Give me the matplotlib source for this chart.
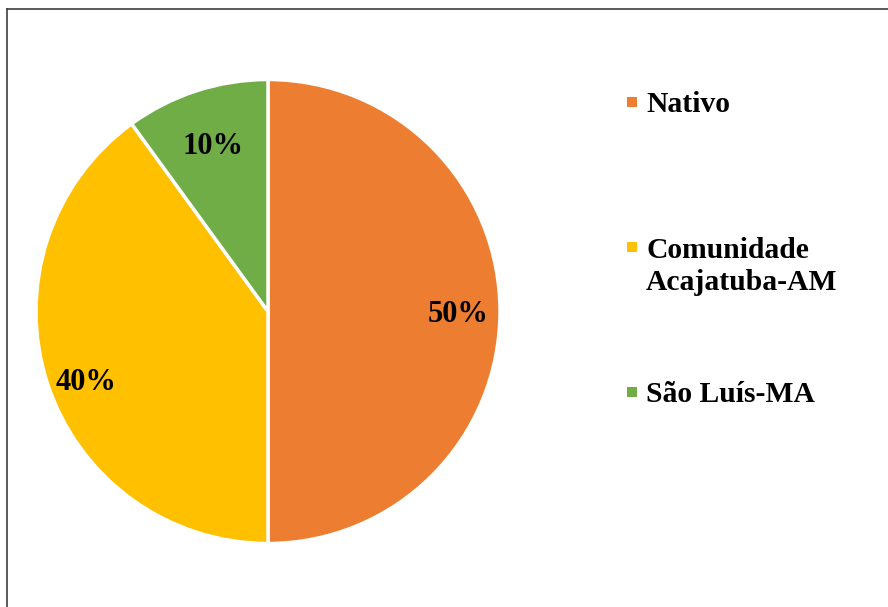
import numpy as np
import matplotlib.pyplot as plt
from matplotlib.patches import Rectangle
from matplotlib.lines import Line2D

# data
categories = ["Nativo", "Comunidade\nAcajatuba-AM", "São Luís-MA"]
values = [50, 40, 10]
colors = ["#ED7D31", "#FFC000", "#70AD47"]

plt.rcParams['font.family'] = ['Liberation Serif', 'DejaVu Serif']

W, H = 888, 607
fig = plt.figure(figsize=(W / 100, H / 100), dpi=100)

# pie axes: center (268, 311.5) px, radius 232 px
cx, cy, r = 268, 311.5, 232
ax = fig.add_axes([(cx - r) / W, (H - cy - r) / H, 2 * r / W, 2 * r / H])
wedges, texts, autotexts = ax.pie(values, colors=colors, startangle=90, counterclock=False,
                                  autopct='%1.0f%%', pctdistance=0.8,
                                  wedgeprops=dict(edgecolor='white', linewidth=2.5))
# label distance / angle nudge per slice (as placed in the original)
label_dist = [0.82, 0.835, 0.765]
label_rot = [0, 2.5, 0]
for w, t, d, rot in zip(wedges, autotexts, label_dist, label_rot):
    ang = np.deg2rad((w.theta1 + w.theta2) / 2 + rot)
    t.set_position((d * np.cos(ang), d * np.sin(ang)))
    t.set_verticalalignment('center_baseline')
    t.set_fontsize(22)
    t.set_fontweight('bold')
    t.set_color('black')
ax.set_xlim(-1, 1)
ax.set_ylim(-1, 1)
ax.set_aspect('equal')
ax.axis('off')

# legend, drawn by hand
legend_y = [102, 247, 392]
for cat, col, ly in zip(categories, colors, legend_y):
    fig.patches.append(Rectangle((627 / W, (H - ly - 5) / H), 10 / W, 10 / H,
                                 transform=fig.transFigure, facecolor=col, edgecolor='none'))
    for i, line in enumerate(cat.split('\n')):
        fig.text(646 / W, (H - ly - i * 33) / H, line, fontsize=21.3, fontweight='bold',
                 va='center_baseline', ha='left')

# frame lines
fig.lines.append(Line2D([7 / W, 7 / W], [0, (H - 9) / H], transform=fig.transFigure,
                        color='#404040', linewidth=1.2))
fig.lines.append(Line2D([7 / W, 1], [(H - 9) / H, (H - 9) / H], transform=fig.transFigure,
                        color='#404040', linewidth=1.2))

fig.savefig("out.png", dpi=100)
